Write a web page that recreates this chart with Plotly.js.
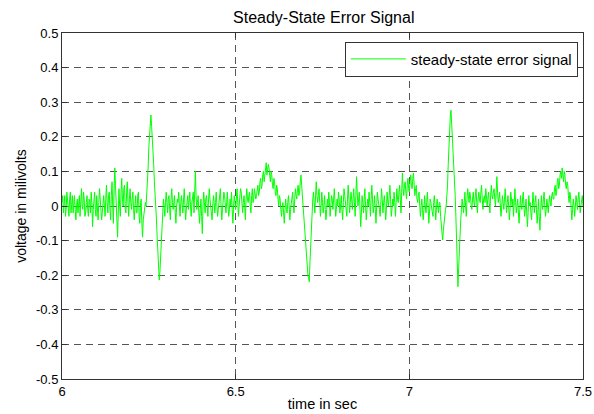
<!DOCTYPE html>
<html>
<head>
<meta charset="utf-8">
<script src="https://cdn.plot.ly/plotly-3.0.1.min.js"></script>
<style>html,body{margin:0;padding:0;background:#fff;}#chart{width:594px;height:414px;}</style>
</head>
<body>
<div id="chart"></div>
<script>
// time axis: start and sample step (seconds)
const tStart = 6.0;
const tStep = 0.002;
// steady-state error signal samples (millivolts)
const errorSignal = [
 0.01,0.03,-0.02,0.00,0.03,-0.03,-0.01,0.04,0.02,-0.01,-0.03,0.02,0.04,-0.02,0.00,0.03,-0.02,0.01,0.03,-0.01,
 -0.04,0.00,0.02,-0.02,0.01,0.03,-0.03,0.02,0.05,0.00,-0.01,0.04,0.02,-0.03,-0.02,0.01,0.03,-0.01,-0.03,0.02,
 0.01,-0.02,0.04,0.01,-0.06,-0.01,0.02,0.04,-0.01,-0.03,0.03,0.00,-0.04,0.01,0.05,0.02,0.00,-0.04,-0.02,0.02,
 0.03,0.00,-0.03,0.02,0.06,0.01,-0.02,0.03,0.04,-0.01,-0.04,0.03,0.07,0.00,-0.05,0.05,0.11,0.06,0.02,-0.04,
 -0.09,-0.02,0.05,0.00,-0.03,0.04,0.08,0.02,0.00,0.05,0.06,-0.01,-0.02,0.04,0.07,0.01,-0.03,0.02,0.05,0.01,
 -0.01,0.02,0.04,-0.01,-0.04,0.00,0.03,-0.02,-0.02,0.03,0.04,-0.03,-0.05,0.01,0.02,-0.05,-0.09,-0.04,-0.02,-0.01,
 0.01,0.00,0.03,0.07,0.11,0.17,0.21,0.25,0.263,0.23,0.20,0.15,0.12,0.07,0.04,0.00,-0.04,-0.09,-0.13,-0.18,
 -0.214,-0.19,-0.15,-0.09,-0.05,-0.01,0.02,0.00,-0.03,0.01,0.04,0.01,-0.02,0.02,0.03,-0.01,-0.04,0.02,0.05,0.01,
 -0.01,0.01,0.03,-0.02,-0.05,0.00,0.02,0.01,0.04,0.00,-0.03,0.01,0.03,0.00,-0.02,0.02,0.05,0.00,-0.04,-0.01,
 0.02,0.03,-0.01,0.02,0.04,0.00,-0.03,0.01,0.03,0.04,-0.02,0.05,0.10,0.03,-0.01,0.01,0.03,-0.02,-0.05,-0.01,
 0.02,-0.03,-0.08,0.00,0.04,0.01,-0.02,0.02,0.03,0.00,-0.03,0.02,0.05,0.02,0.00,-0.02,-0.04,0.00,0.03,0.01,
 -0.02,0.01,0.04,0.00,-0.03,-0.01,0.02,0.03,0.05,0.00,-0.04,-0.01,0.01,0.04,0.03,-0.01,-0.02,0.01,0.04,0.00,
 -0.03,-0.01,0.02,0.00,0.04,-0.01,-0.05,0.00,0.03,0.01,-0.01,0.02,0.05,0.01,-0.03,0.00,0.02,0.05,0.04,0.01,
 -0.02,0.01,0.03,0.00,-0.04,0.02,0.05,0.02,0.01,0.03,0.04,0.00,-0.02,0.03,0.05,0.01,0.02,0.05,0.04,0.02,
 0.03,0.05,0.06,0.03,0.04,0.07,0.08,0.05,0.06,0.09,0.10,0.07,0.09,0.11,0.125,0.09,0.10,0.12,0.11,0.08,
 0.07,0.10,0.09,0.06,0.05,0.08,0.07,0.04,0.03,0.06,0.05,0.02,0.00,0.03,0.02,-0.01,-0.03,0.00,0.01,-0.02,
 -0.05,-0.01,0.02,-0.01,-0.02,0.01,0.03,0.00,-0.04,-0.01,0.01,0.03,0.04,0.00,-0.02,0.02,0.05,0.03,0.02,0.05,
 0.06,0.03,0.04,0.07,0.09,0.06,0.03,-0.01,-0.05,-0.08,-0.10,-0.13,-0.15,-0.18,-0.20,-0.21,-0.219,-0.16,-0.10,-0.05,
 -0.01,0.02,0.04,0.01,-0.02,0.03,0.07,0.03,0.01,0.03,0.05,0.01,-0.03,0.00,0.04,0.01,-0.02,0.00,0.03,-0.01,
 -0.04,-0.01,0.02,0.00,0.04,0.01,-0.03,0.00,0.03,0.02,-0.01,0.02,0.05,0.01,-0.03,-0.01,0.02,0.00,0.04,0.02,
 -0.02,0.00,0.03,-0.01,-0.04,0.01,0.05,0.03,0.01,-0.01,-0.03,0.02,0.06,0.02,-0.02,0.01,0.04,0.02,-0.01,0.02,
 0.05,0.01,-0.03,0.03,0.085,0.04,0.00,0.02,0.04,-0.01,-0.06,-0.02,0.03,0.01,-0.02,0.02,0.05,0.00,-0.04,-0.01,
 0.02,0.00,0.04,0.01,-0.03,0.02,0.06,0.02,-0.02,0.00,0.03,-0.01,-0.05,0.00,0.04,0.02,0.01,-0.01,-0.03,0.02,
 0.05,0.02,-0.02,0.01,0.03,0.00,-0.04,-0.01,0.04,0.01,0.00,0.03,0.06,0.02,-0.03,-0.01,0.02,0.00,0.04,0.01,
 -0.03,0.01,0.05,0.02,0.01,0.04,0.06,0.02,-0.02,0.04,0.095,0.05,0.03,0.06,0.07,0.04,0.02,0.06,0.08,0.05,
 0.04,0.07,0.09,0.06,0.05,0.08,0.095,0.06,0.03,0.05,0.06,0.02,0.01,0.03,0.04,0.00,-0.03,0.00,0.02,-0.01,
 -0.04,-0.01,0.03,0.00,-0.02,0.01,0.04,0.00,-0.05,-0.02,0.02,0.01,0.00,-0.02,-0.03,0.01,0.03,0.00,-0.04,-0.01,
 0.02,0.00,-0.02,0.01,0.01,-0.03,-0.06,-0.08,-0.098,-0.07,-0.04,-0.03,-0.01,0.00,0.02,0.06,0.12,0.18,0.23,0.26,
 0.277,0.24,0.20,0.15,0.10,0.06,0.03,-0.03,-0.08,-0.16,-0.233,-0.18,-0.12,-0.08,-0.04,-0.01,0.02,0.00,-0.02,0.01,
 0.04,0.00,-0.03,0.02,0.05,0.03,0.01,0.04,0.03,0.00,-0.01,0.02,0.04,0.01,0.00,0.03,0.05,0.01,-0.02,0.02,
 0.04,0.02,0.01,0.04,0.06,0.02,-0.01,0.02,0.03,0.01,0.05,0.03,0.00,0.02,0.04,0.01,-0.02,0.03,0.06,0.03,
 0.02,0.04,0.05,0.02,0.00,0.04,0.085,0.04,0.01,0.02,0.04,0.00,-0.03,0.00,0.03,0.01,-0.01,0.02,0.05,0.01,
 -0.02,0.01,0.03,0.00,-0.04,-0.01,0.04,0.02,0.00,0.02,-0.03,0.01,0.05,0.01,-0.02,0.00,0.02,-0.02,-0.05,-0.01,
 0.03,0.00,-0.01,0.02,0.04,0.00,-0.03,-0.01,0.02,-0.02,-0.06,-0.02,0.03,0.00,0.01,-0.02,-0.04,0.00,0.04,0.01,
 -0.02,0.01,0.03,-0.01,-0.05,-0.02,0.02,-0.03,-0.07,-0.02,0.03,0.00,-0.01,0.02,0.04,0.00,-0.03,-0.01,0.02,0.00,
 -0.02,0.01,0.03,0.01,0.00,0.03,0.04,0.02,0.02,0.05,0.06,0.03,0.04,0.07,0.08,0.05,0.06,0.09,0.10,0.08,
 0.11,0.09,0.07,0.10,0.09,0.06,0.05,0.07,0.06,0.03,0.01,0.04,0.03,-0.01,-0.04,-0.01,0.02,0.00,-0.03,0.00,
 0.03,0.01,-0.01,0.02,0.04,0.01,-0.02,0.00,0.02,0.03,0.00
];
const xTickVals = [6, 6.5, 7, 7.5];
const xTickText = ["6", "6.5", "7", "7.5"];
const yTickVals = [0.5, 0.4, 0.3, 0.2, 0.1, 0, -0.1, -0.2, -0.3, -0.4, -0.5];
const yTickText = ["0.5", "0.4", "0.3", "0.2", "0.1", "0", "-0.1", "-0.2", "-0.3", "-0.4", "-0.5"];

const fam = "Liberation Sans, Arial, sans-serif";
const font = {family: fam, size: 13, color: "#000"};
const axisCommon = {
  showline: true, linecolor: "#333", linewidth: 1, mirror: "allticks",
  ticks: "inside", ticklen: 5, tickcolor: "#333",
  showgrid: true, gridcolor: "#555", gridwidth: 1, griddash: "7px,5px",
  zeroline: false, tickfont: font
};
const trace = {
  type: "scatter", mode: "lines", name: "steady-state error signal",
  x0: tStart, dx: tStep, y: errorSignal,
  line: {color: "#00ff00", width: 1}
};
const layout = {
  width: 594, height: 414,
  margin: {l: 62, r: 11, t: 33, b: 35},
  paper_bgcolor: "#fff", plot_bgcolor: "#fff",
  font: font,
  title: {text: "Steady-State Error Signal", font: {family: fam, size: 16, color: "#000"},
          x: 0.545, xanchor: "center", y: 0.957, yanchor: "middle"},
  xaxis: Object.assign({}, axisCommon, {
    range: [6, 7.5], tickvals: xTickVals, ticktext: xTickText,
    title: {text: "time in sec", font: {family: fam, size: 14.5, color: "#000"}, standoff: 1}
  }),
  yaxis: Object.assign({}, axisCommon, {
    range: [-0.5, 0.5], tickvals: yTickVals, ticktext: yTickText,
    title: {text: "voltage in milivolts", font: {family: fam, size: 14, color: "#000"}, standoff: 6}
  }),
  showlegend: true,
  legend: {x: 0.99, xanchor: "right", y: 0.975, yanchor: "top",
    bgcolor: "#fff", bordercolor: "#333", borderwidth: 1,
    font: {family: fam, size: 15, color: "#000"}, tracegroupgap: 0, itemwidth: 55}
};
Plotly.newPlot("chart", [trace], layout, {displayModeBar: false, staticPlot: true});
</script>
</body>
</html>
